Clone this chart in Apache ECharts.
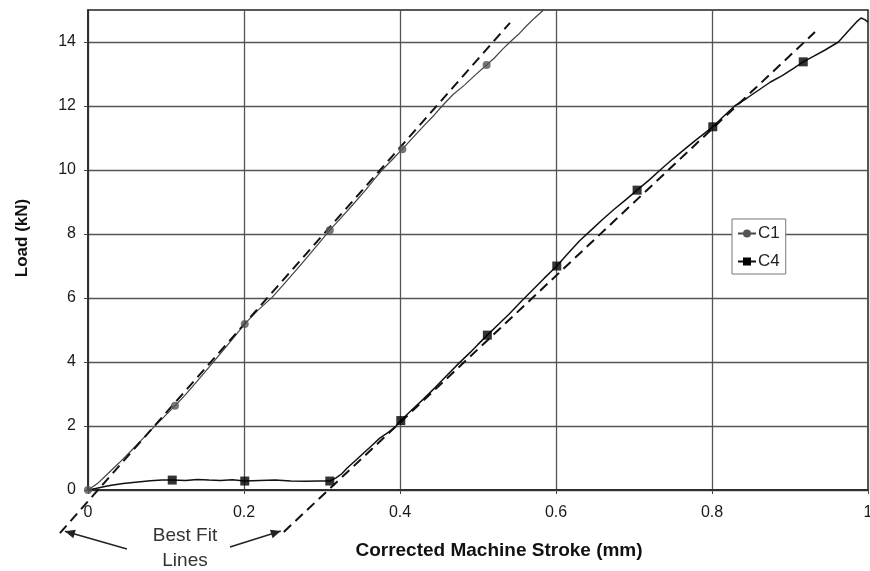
<!DOCTYPE html>
<html>
<head>
<meta charset="utf-8">
<script src="https://cdn.jsdelivr.net/npm/echarts@6/dist/echarts.min.js"></script>
<style>
  html, body { margin: 0; padding: 0; background: #fff; }
  #chart { width: 870px; height: 571px; }
</style>
</head>
<body>
<div id="chart"></div>
<script>
// Axis ticks
const xTicks = [0, 0.2, 0.4, 0.6, 0.8, 1];
const yTicks = [0, 2, 4, 6, 8, 10, 12, 14];

// Specimen C1: load vs corrected stroke
const c1Curve = [
  [0, 0], [0.012, 0.2], [0.025, 0.5], [0.04, 0.85], [0.055, 1.22], [0.07, 1.6],
  [0.085, 1.98], [0.1, 2.35], [0.1115, 2.63], [0.125, 2.98], [0.14, 3.4], [0.155, 3.83],
  [0.17, 4.27], [0.186, 4.74], [0.201, 5.19], [0.218, 5.62], [0.236, 6.02], [0.252, 6.46],
  [0.268, 6.9], [0.283, 7.33], [0.297, 7.74], [0.31, 8.12], [0.325, 8.52], [0.34, 8.93],
  [0.355, 9.35], [0.368, 9.74], [0.377, 10.0], [0.39, 10.32], [0.403, 10.65], [0.418, 11.05],
  [0.432, 11.42], [0.444, 11.72], [0.454, 12.0], [0.468, 12.36], [0.483, 12.66], [0.497, 12.98],
  [0.511, 13.28], [0.521, 13.5], [0.531, 13.76], [0.541, 14.0], [0.552, 14.24], [0.562, 14.5],
  [0.573, 14.76], [0.584, 15.0]
];
const c1Markers = [[0, 0], [0.1115, 2.63], [0.201, 5.19], [0.31, 8.12], [0.403, 10.65], [0.511, 13.28]];

// Specimen C4: load vs corrected stroke
const c4Curve = [
  [0, 0], [0.01, 0.05], [0.02, 0.1], [0.03, 0.15], [0.045, 0.2], [0.064, 0.25],
  [0.08, 0.29], [0.095, 0.31], [0.108, 0.31], [0.125, 0.3], [0.14, 0.33], [0.155, 0.31],
  [0.17, 0.3], [0.185, 0.32], [0.201, 0.28], [0.22, 0.3], [0.24, 0.31], [0.26, 0.28],
  [0.28, 0.27], [0.295, 0.28], [0.31, 0.28], [0.318, 0.38], [0.325, 0.5], [0.332, 0.68],
  [0.343, 0.92], [0.353, 1.15], [0.364, 1.39], [0.374, 1.62], [0.385, 1.8], [0.395, 2.0],
  [0.401, 2.17], [0.415, 2.5], [0.43, 2.84], [0.445, 3.2], [0.46, 3.58], [0.475, 3.95],
  [0.49, 4.3], [0.5, 4.55], [0.512, 4.84], [0.525, 5.15], [0.54, 5.5], [0.555, 5.88],
  [0.57, 6.25], [0.585, 6.62], [0.601, 7.0], [0.615, 7.38], [0.63, 7.78], [0.645, 8.12],
  [0.66, 8.46], [0.675, 8.78], [0.69, 9.08], [0.704, 9.37], [0.72, 9.7], [0.735, 10.03],
  [0.75, 10.35], [0.765, 10.65], [0.78, 10.95], [0.801, 11.35], [0.815, 11.68], [0.829, 12.0],
  [0.845, 12.25], [0.86, 12.5], [0.875, 12.75], [0.89, 12.95], [0.905, 13.18], [0.917, 13.38],
  [0.93, 13.55], [0.945, 13.75], [0.962, 14.0], [0.975, 14.35], [0.985, 14.62], [0.991, 14.75],
  [0.996, 14.7], [1.0, 14.62]
];
const c4Markers = [[0.108, 0.31], [0.201, 0.28], [0.31, 0.28], [0.401, 2.17], [0.512, 4.84],
  [0.601, 7.0], [0.704, 9.37], [0.801, 11.35], [0.917, 13.38]];

// Best fit lines (end points)
const c1Fit = [[-0.036, -1.35], [0.541, 14.6]];
const c4Fit = [[0.251, -1.31], [0.932, 14.31]];

const FONT = '"Liberation Sans", Arial, sans-serif';
const chart = echarts.init(document.getElementById('chart'), null, { renderer: 'canvas' });

// Each fit line is one segment; drawn unclipped so it runs past the axis
function fitSeries(name, pts) {
  return {
    name: name, type: 'custom', clip: false, silent: true, z: 4,
    data: [[pts[0][0], pts[0][1], pts[1][0], pts[1][1]]],
    encode: { x: [0, 2], y: [1, 3] },
    renderItem: function (params, api) {
      const a = api.coord([api.value(0), api.value(1)]);
      const b = api.coord([api.value(2), api.value(3)]);
      return {
        type: 'line',
        shape: { x1: a[0], y1: a[1], x2: b[0], y2: b[1] },
        style: { stroke: '#111', lineWidth: 2, lineDash: [10, 6], fill: null }
      };
    }
  };
}

const option = {
  animation: false,
  backgroundColor: '#fff',
  textStyle: { fontFamily: FONT },
  grid: {
    left: 88, right: 2, top: 10, bottom: 81,
    outerBoundsMode: 'none', containLabel: false,
    show: true, borderColor: '#222', borderWidth: 1.5
  },
  legend: {
    data: ['C1', 'C4'],
    orient: 'vertical',
    left: 732, top: 219,
    padding: [6, 6, 4, 5],
    itemWidth: 18, itemHeight: 10, itemGap: 11,
    backgroundColor: '#fff',
    borderColor: '#777', borderWidth: 1,
    textStyle: { fontFamily: FONT, fontSize: 17, color: '#222', padding: [0, 0, 0, -3] }
  },
  xAxis: {
    type: 'value', min: 0, max: 1, interval: 0.2,
    name: 'Corrected Machine Stroke (mm)',
    nameLocation: 'middle', nameGap: 51,
    nameTextStyle: { fontFamily: FONT, fontSize: 19, fontWeight: 'bold', color: '#111', padding: [0, 0, 0, 42] },
    axisLine: { show: true, lineStyle: { color: '#222', width: 1.5 } },
    axisTick: { show: true, length: 4, lineStyle: { color: '#444' } },
    axisLabel: { fontFamily: FONT, fontSize: 16, color: '#1a1a1a', margin: 15, customValues: xTicks },
    splitLine: { show: true, lineStyle: { color: '#555', width: 1.3 } }
  },
  yAxis: {
    type: 'value', min: 0, max: 15,
    name: 'Load (kN)',
    nameLocation: 'middle', nameGap: 57, nameRotate: 90,
    nameTextStyle: { fontFamily: FONT, fontSize: 17, fontWeight: 'bold', color: '#111', padding: [0, 0, 0, 24] },
    axisLine: { show: true, lineStyle: { color: '#222', width: 1.5 } },
    axisTick: { show: true, length: 4, lineStyle: { color: '#444' }, customValues: yTicks },
    axisLabel: { fontFamily: FONT, fontSize: 16, color: '#1a1a1a', margin: 12, customValues: yTicks },
    splitLine: { show: true, lineStyle: { color: '#555', width: 1.3 } }
  },
  series: [
    {
      name: 'C1', type: 'line', data: c1Curve,
      symbol: 'circle', showSymbol: false, symbolSize: 8,
      itemStyle: { color: '#555' },
      lineStyle: { color: '#444', width: 1.2 },
      z: 3
    },
    {
      name: 'C4', type: 'line', data: c4Curve,
      symbol: 'rect', showSymbol: false, symbolSize: 9,
      itemStyle: { color: '#000' },
      lineStyle: { color: '#111', width: 1.5 },
      z: 3
    },
    fitSeries('fitC1', c1Fit),
    fitSeries('fitC4', c4Fit),
    {
      name: 'C1', type: 'scatter', data: c1Markers,
      symbol: 'circle', symbolSize: 8, clip: false,
      itemStyle: { color: '#555' }, z: 5
    },
    {
      name: 'C4', type: 'scatter', data: c4Markers,
      symbol: 'rect', symbolSize: 9,
      itemStyle: { color: '#000' }, z: 5
    }
  ]
};
chart.setOption(option);

// "Best Fit Lines" annotation with arrows pointing at the lower ends of the fit lines
const tipL = chart.convertToPixel({ gridIndex: 0 }, c1Fit[0]);
const tipR = chart.convertToPixel({ gridIndex: 0 }, c4Fit[0]);
function arrow(from, tip) {
  const dx = tip[0] - from[0], dy = tip[1] - from[1];
  const len = Math.sqrt(dx * dx + dy * dy);
  const ux = dx / len, uy = dy / len;
  const hl = 10, hw = 4.5;
  const bx = tip[0] - ux * hl, by = tip[1] - uy * hl;
  return [
    { type: 'line', shape: { x1: from[0], y1: from[1], x2: tip[0], y2: tip[1] },
      style: { stroke: '#222', lineWidth: 1.5 }, silent: true },
    { type: 'polygon', shape: { points: [tip, [bx - uy * hw, by + ux * hw], [bx + uy * hw, by - ux * hw]] },
      style: { fill: '#222' }, silent: true }
  ];
}
const aL = [tipL[0] + 5, tipL[1] - 2];
const aR = [tipR[0] - 3, tipR[1] - 1];
chart.setOption({
  graphic: [
    { type: 'text', x: 185, y: 526,
      style: { text: 'Best Fit', font: '19px ' + FONT, fill: '#333', textAlign: 'center' }, silent: true },
    { type: 'text', x: 185, y: 551,
      style: { text: 'Lines', font: '19px ' + FONT, fill: '#333', textAlign: 'center' }, silent: true },
    ...arrow([127, 549], aL),
    ...arrow([230, 547], aR)
  ]
});
</script>
</body>
</html>
